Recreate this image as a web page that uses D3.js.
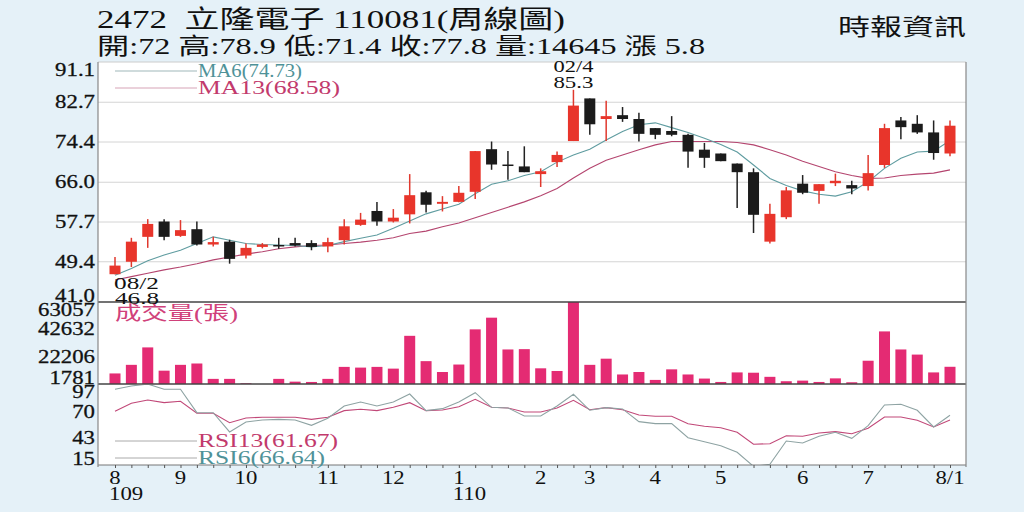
<!DOCTYPE html>
<html>
<head>
<meta charset="utf-8">
<script src="https://cdn.jsdelivr.net/npm/d3@7"></script>
<style>
  body { margin: 0; background: #e5f1f8; }
  svg { display: block; }
  text { white-space: pre; }
</style>
</head>
<body>
<svg width="1024" height="512"></svg>
<script>
// weekly candles, Aug 2020 .. Aug 2021
var open  = [46.8,49.4,54.6,57.8,54.8,56.2,53.0,53.6,50.7,52.5,52.9,53.3,53.3,52.6,53.9,57.1,60.0,57.8,59.3,63.9,61.5,61.9,64.0,72.9,69.7,69.3,67.7,70.2,74.6,83.5,79.2,80.0,79.2,77.3,76.7,75.9,72.8,72.0,69.9,68.1,53.6,58.7,65.7,64.2,65.8,65.4,65.2,69.6,78.9,78.2,76.4,72.0];
var high  = [50.4,54.4,58.3,58.3,58.1,57.8,54.6,54.0,53.2,53.3,54.4,54.4,53.9,54.4,58.3,59.6,61.9,60.4,67.7,64.2,63.1,65.2,72.5,74.5,72.5,73.5,68.9,72.4,85.3,83.5,83.0,81.7,80.5,77.3,79.8,76.1,74.2,72.0,69.9,68.9,61.5,65.0,67.5,65.6,67.8,66.3,71.7,78.2,79.6,80.0,78.9,78.9];
var low   = [46.8,48.3,52.3,53.9,54.6,52.8,52.6,49.0,50.1,52.2,52.1,52.6,51.8,51.4,53.0,56.9,56.9,57.6,57.4,59.7,59.9,61.8,62.5,68.6,66.5,68.1,65.0,69.2,74.6,75.9,74.6,78.6,74.5,75.0,75.6,69.0,69.0,70.4,60.6,55.4,53.2,58.3,63.5,61.5,65.2,63.5,64.3,69.0,75.0,76.1,70.7,71.4];
var close = [48.6,53.6,57.3,54.6,56.0,53.0,53.5,50.0,52.3,53.0,52.9,52.8,52.5,53.5,56.8,58.2,57.8,58.6,63.3,61.3,61.9,63.8,72.5,69.7,69.6,68.1,68.3,71.7,82.0,78.1,79.8,79.2,76.1,75.9,75.9,72.4,71.1,70.4,68.1,59.2,59.4,64.3,63.8,65.6,66.3,64.7,67.9,77.3,77.5,76.4,72.1,77.8];
var ma6   = [46.6,48.0,49.6,50.8,51.8,53.2,54.6,53.9,53.2,53.0,52.9,52.8,52.5,52.8,53.6,54.3,55.0,56.4,57.9,59.4,60.4,61.4,63.6,65.6,66.3,67.4,68.2,70.2,71.7,72.9,74.8,76.6,78.0,78.4,77.4,76.4,75.2,73.9,72.3,69.6,66.8,65.3,64.2,63.5,63.1,64.0,66.1,68.9,71.0,72.3,72.5,74.73];
var ma13  = [45.6,46.3,47.0,47.7,48.3,49.0,49.8,50.4,51.0,51.5,52.1,52.5,52.8,52.9,53.2,53.5,53.9,54.4,55.3,55.8,56.7,57.5,58.6,59.7,60.8,61.9,63.2,64.7,66.9,68.9,70.6,71.7,72.8,73.8,74.5,74.5,74.5,74.5,74.3,73.8,72.8,71.7,70.4,69.3,68.2,67.4,66.8,66.9,67.4,67.7,67.9,68.58];
var volume = [9670,16100,29130,11740,16100,17100,5610,5610,2320,1781,5610,3540,3310,5610,14570,14040,14570,13270,37780,18860,10740,16330,42610,51340,27590,27830,13500,11510,63057,16100,20700,8900,10740,4840,12730,8900,5840,3310,10440,10210,7140,3850,4310,3310,5990,3080,19170,41080,27590,23760,10440,14645];
var rsi6  = [93.6,97,99,93.6,93.6,69.3,69.3,49.3,59.7,61.7,62.4,61.7,56.2,63.5,76.3,80.4,76.3,80.4,88.7,71.4,73.5,80.4,90.1,74.9,74.2,65.9,65.9,76.3,88.4,71.8,74.5,73.2,60.0,57.9,57.9,43.3,39.2,35.0,28.2,13.6,15.7,39.9,37.8,44.8,49.0,42.7,55.8,77.3,78.0,71.8,54.5,66.64];
var rsi13 = [70.8,79.1,82.5,79.7,81.1,68.7,68.7,58.9,63.8,64.5,64.5,64.5,62.4,64.5,71.4,72.8,71.4,74.9,79.7,71.4,72.1,75.5,83.2,74.9,74.2,70.0,70.0,74.2,82.2,72.4,74.5,72.4,66.9,65.6,65.6,57.9,55.2,53.7,49.0,36.5,37.1,45.4,44.8,48.2,49.6,47.5,53.1,64.8,64.8,61.4,54.5,61.67];

var priceTicks = [41.0, 49.4, 57.7, 66.0, 74.4, 82.7, 91.1];
var volTicks = [1781, 22206, 42632, 63057];
var rsiTicks = [15, 43, 70, 97];
var monthIdx = [0, 4, 8, 13, 17, 21, 26, 29, 33, 37, 42, 46, 51];
var monthLabels = ['8', '9', '10', '11', '12', '1', '2', '3', '4', '5', '6', '7', '8/1'];
var yearIdx = [0, 21];
var yearLabels = ['109', '110'];

var svg = d3.select('svg');
var serif = "'Liberation Serif', 'Noto Sans CJK TC', serif";
var L = 98, R = 966;
var pTop = 62, pBot = 302, vBot = 384, rBot = 465;

var idx = d3.range(close.length);
var x = d3.scalePoint().domain(idx).range([115, 950]);
var yP = d3.scaleLinear().domain([41.0, 91.1]).range([pBot, pTop]);
var yV = d3.scaleLinear().domain([1781, 63057]).range([vBot, pBot]);
var yR = d3.scaleLinear().domain([15, 97]).range([rBot, 386]);

// white plot area
svg.append('rect').attr('x', L).attr('y', pTop).attr('width', R - L).attr('height', rBot - pTop)
    .attr('fill', '#fff');

// price gridlines
svg.append('g').selectAll('line').data(priceTicks.slice(1, -1)).join('line')
    .attr('x1', L).attr('x2', R).attr('y1', yP).attr('y2', yP)
    .attr('stroke', '#d4d4d4').attr('stroke-width', 1);

svg.append('defs').append('clipPath').attr('id', 'rsiclip')
    .append('rect').attr('x', L).attr('y', vBot + 1).attr('width', R - L).attr('height', rBot - vBot - 1);

// moving averages
var line = function (ys) {
    return d3.line().x(function (d, i) { return x(i); }).y(function (d) { return ys(d); });
};
svg.append('path').datum(ma13).attr('d', line(yP)).attr('fill', 'none')
    .attr('stroke', '#b4456f').attr('stroke-width', 1.1);
svg.append('path').datum(ma6).attr('d', line(yP)).attr('fill', 'none')
    .attr('stroke', '#5f9ca0').attr('stroke-width', 1.1);

// candles
var bw = 11;
var isUp = function (i) { return close[i] > open[i]; };
var candles = svg.append('g').selectAll('g').data(idx).join('g');
candles.append('line')
    .attr('x1', function (i) { return x(i); }).attr('x2', function (i) { return x(i); })
    .attr('y1', function (i) { return yP(high[i]); }).attr('y2', function (i) { return yP(low[i]); })
    .attr('stroke', function (i) { return isUp(i) ? '#e0392e' : '#222'; }).attr('stroke-width', 1.5);
candles.append('rect')
    .attr('x', function (i) { return x(i) - bw / 2; }).attr('width', bw)
    .attr('y', function (i) { return yP(Math.max(open[i], close[i])); })
    .attr('height', function (i) { return Math.max(1.5, Math.abs(yP(open[i]) - yP(close[i]))); })
    .attr('fill', function (i) { return isUp(i) ? '#e8352b' : '#1b1b1b'; });

// volume bars
svg.append('g').selectAll('rect').data(volume).join('rect')
    .attr('x', function (d, i) { return x(i) - 5.5; }).attr('width', 11)
    .attr('y', function (d) { return yV(d); })
    .attr('height', function (d) { return vBot - yV(d); })
    .attr('fill', '#e42b73');

// rsi lines
var gR = svg.append('g').attr('clip-path', 'url(#rsiclip)');
gR.append('path').datum(rsi13).attr('d', line(yR)).attr('fill', 'none')
    .attr('stroke', '#c14878').attr('stroke-width', 1.1);
gR.append('path').datum(rsi6).attr('d', line(yR)).attr('fill', 'none')
    .attr('stroke', '#8ea3a3').attr('stroke-width', 1.1);

// frame
svg.append('line').attr('x1', L).attr('x2', R).attr('y1', pTop).attr('y2', pTop).attr('stroke', '#ccc');
[pBot, vBot].forEach(function (yy) {
    svg.append('line').attr('x1', L).attr('x2', R).attr('y1', yy).attr('y2', yy)
        .attr('stroke', '#444').attr('stroke-width', 1.5);
});
svg.append('line').attr('x1', L).attr('x2', R).attr('y1', rBot).attr('y2', rBot)
    .attr('stroke', '#777').attr('stroke-width', 1);
svg.append('line').attr('x1', L).attr('x2', L).attr('y1', pTop).attr('y2', rBot + 2)
    .attr('stroke', '#888').attr('stroke-width', 1.2);
svg.append('line').attr('x1', R).attr('x2', R).attr('y1', pTop).attr('y2', rBot + 2)
    .attr('stroke', '#888').attr('stroke-width', 1.2);

// left axes, labels kept inside their panel; the original type is a bit wide
function leftAxis(scale, ticks, fmt, top, bot) {
    var g = svg.append('g').attr('transform', 'translate(' + (L - 3) + ',0)')
        .call(d3.axisLeft(scale).tickValues(ticks).tickSize(0).tickPadding(0).tickFormat(fmt));
    g.select('.domain').remove();
    g.selectAll('.tick').attr('transform', function (d) {
        return 'translate(0,' + Math.max(top + 8, Math.min(bot - 6, scale(d))) + ')';
    });
    g.selectAll('text').attr('font-family', serif).attr('font-size', 19).attr('fill', '#111')
        .attr('stroke', '#111').attr('stroke-width', 0.3).attr('transform', 'scale(1.2,1)');
}
leftAxis(yP, priceTicks, d3.format('.1f'), pTop, pBot);
leftAxis(yV, volTicks, d3.format('d'), pBot, vBot);
leftAxis(yR, rsiTicks, d3.format('d'), vBot, rBot);

// x axis
var gx = svg.append('g').attr('transform', 'translate(0,' + rBot + ')')
    .call(d3.axisBottom(x).tickValues(idx).tickSize(3).tickFormat(''));
gx.select('.domain').remove();
gx.selectAll('line').attr('stroke', '#555');
svg.append('g').selectAll('text').data(monthIdx).join('text')
    .attr('transform', function (d) { return 'translate(' + x(d) + ',484) scale(1.2,1)'; })
    .attr('text-anchor', 'middle').attr('font-family', serif).attr('font-size', 19).attr('fill', '#111')
    .text(function (d, i) { return monthLabels[i]; });
svg.append('g').selectAll('text').data(yearIdx).join('text')
    .attr('transform', function (d) { return 'translate(' + (x(d) - 6) + ',500) scale(1.2,1)'; })
    .attr('font-family', serif).attr('font-size', 19).attr('fill', '#111')
    .text(function (d, i) { return yearLabels[i]; });

// texts
function txt(s, xx, yy, size, color, len) {
    var t = svg.append('text').attr('x', xx).attr('y', yy).attr('font-family', serif)
        .attr('font-size', size).attr('fill', color).text(s);
    if (len) t.attr('textLength', len).attr('lengthAdjust', 'spacingAndGlyphs');
    return t;
}
txt('2472  立隆電子 110081(周線圖)', 97, 28, 25, '#111', 468);
txt('開:72 高:78.9 低:71.4 收:77.8 量:14645 漲 5.8', 97, 54, 23, '#111', 608);
txt('時報資訊', 838, 35, 23, '#111', 128);

// legends
function legend(s, yy, lineColor, color, len) {
    svg.append('line').attr('x1', 115).attr('x2', 197).attr('y1', yy).attr('y2', yy)
        .attr('stroke', lineColor).attr('stroke-width', 1);
    txt(s, 198, yy + 6, 18, color, len);
}
legend('MA6(74.73)', 71, '#9fb7b9', '#4f9298', 104);
legend('MA13(68.58)', 88, '#d6a3b6', '#c23a6c', 142);
legend('RSI13(61.67)', 441, '#aaa', '#c23a6c', 140);
legend('RSI6(66.64)', 458, '#aaa', '#4f9298', 127);
txt('成交量(張)', 115, 320, 19, '#d0417a', 123);

// high / low marks
txt('08/2', 114, 289, 17, '#111', 45);
txt('46.8', 115, 304, 17, '#111', 44);
txt('02/4', x(28), 72, 17, '#111', 40).attr('text-anchor', 'middle');
txt('85.3', x(28), 88, 17, '#111', 40).attr('text-anchor', 'middle');
</script>
</body>
</html>
